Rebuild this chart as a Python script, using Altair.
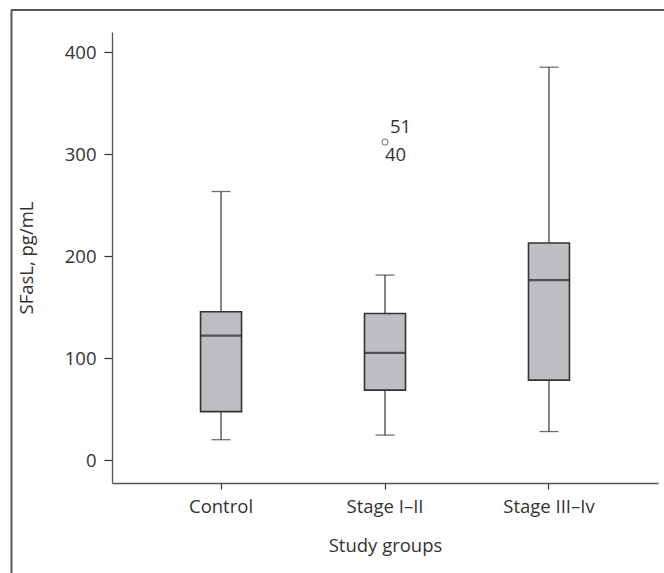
import altair as alt
import pandas as pd

groups = ["Control", "Stage I–II", "Stage III–Iv"]
low = [20, 24.5, 28]
q1 = [47.5, 68.6, 78.4]
median = [122, 105.2, 176.5]
q3 = [145.5, 143.8, 213]
high = [263.5, 181.5, 385.5]

outlier_group = ["Stage I–II", "Stage I–II"]
outlier_value = [312, 312]
outlier_label = ["51", "40"]

FONT = "Open Sans"
INK = "#333333"
AXIS = "#555555"
FS = 18.5

df = pd.DataFrame({"group": groups, "low": low, "q1": q1, "median": median, "q3": q3, "high": high})
odf = pd.DataFrame({"group": outlier_group, "value": outlier_value, "label": outlier_label})

xscale = alt.Scale(domain=groups, paddingInner=0, paddingOuter=0.165)
yscale = alt.Scale(domain=[-22.5, 420], nice=False, zero=False)

x = alt.X("group:N", scale=xscale, sort=groups,
          axis=alt.Axis(title="Study groups", labelAngle=0, tickSize=6, labelPadding=8,
                        titleY=62, titleBaseline="middle"))
y_axis = alt.Axis(title="SFasL, pg/mL", values=[0, 100, 200, 300, 400], grid=False,
                  tickSize=8, labelPadding=8, titleX=-86, titleBaseline="middle", titleAngle=-90)

base = alt.Chart(df)

whisker = base.mark_rule(color=INK, strokeWidth=1.2).encode(
    x=x, y=alt.Y("low:Q", scale=yscale, axis=y_axis), y2="high:Q")
caps_low = base.mark_tick(color=INK, size=19, thickness=1.3).encode(x=x, y="low:Q")
caps_high = base.mark_tick(color=INK, size=19, thickness=1.3).encode(x=x, y="high:Q")
box = base.mark_bar(size=41, fill="#bebec2", stroke=INK, strokeWidth=1.6).encode(
    x=x, y="q1:Q", y2="q3:Q")
med = base.mark_tick(color="#222222", size=41, thickness=2.2).encode(x=x, y="median:Q")

obase = alt.Chart(odf)
opoint = obase.transform_filter(alt.datum.label == "51").mark_point(
    shape="circle", size=38, filled=False, color=INK, strokeWidth=1).encode(x=x, y="value:Q")
lab51 = obase.transform_filter(alt.datum.label == "51").mark_text(
    font=FONT, fontSize=FS, color=INK, align="left", baseline="middle", dx=5, dy=-15).encode(
    x=x, y="value:Q", text="label:N")
lab40 = obase.transform_filter(alt.datum.label == "40").mark_text(
    font=FONT, fontSize=FS, color=INK, align="left", baseline="middle", dx=0, dy=13).encode(
    x=x, y="value:Q", text="label:N")

frame_top = alt.Chart(df).mark_rule(color=AXIS, strokeWidth=1.7, clip=False).encode(
    x=alt.value(-101), x2=alt.value(560), y=alt.value(-22))
frame_left = alt.Chart(df).mark_rule(color=AXIS, strokeWidth=1.4, clip=False).encode(
    x=alt.value(-100.5), y=alt.value(-22), y2=alt.value(560))

chart = alt.layer(whisker, caps_low, caps_high, box, med, opoint, lab51, lab40,
                  frame_top, frame_left).properties(
    width=546, height=451,
    autosize=alt.AutoSizeParams(type="none"),
    padding={"left": 112, "top": 32, "right": 6, "bottom": 90},
).configure_view(stroke=None).configure_axis(
    labelFont=FONT, titleFont=FONT, labelFontSize=FS, titleFontSize=FS,
    labelColor=INK, titleColor=INK, titleFontWeight="normal",
    domainColor=AXIS, tickColor=INK, domainWidth=1.3, tickWidth=1.2,
).configure_axisY(domain=True).configure_axisX(domain=True, grid=False)

chart.save("out.html", embed_options={"renderer": "svg", "actions": False})
